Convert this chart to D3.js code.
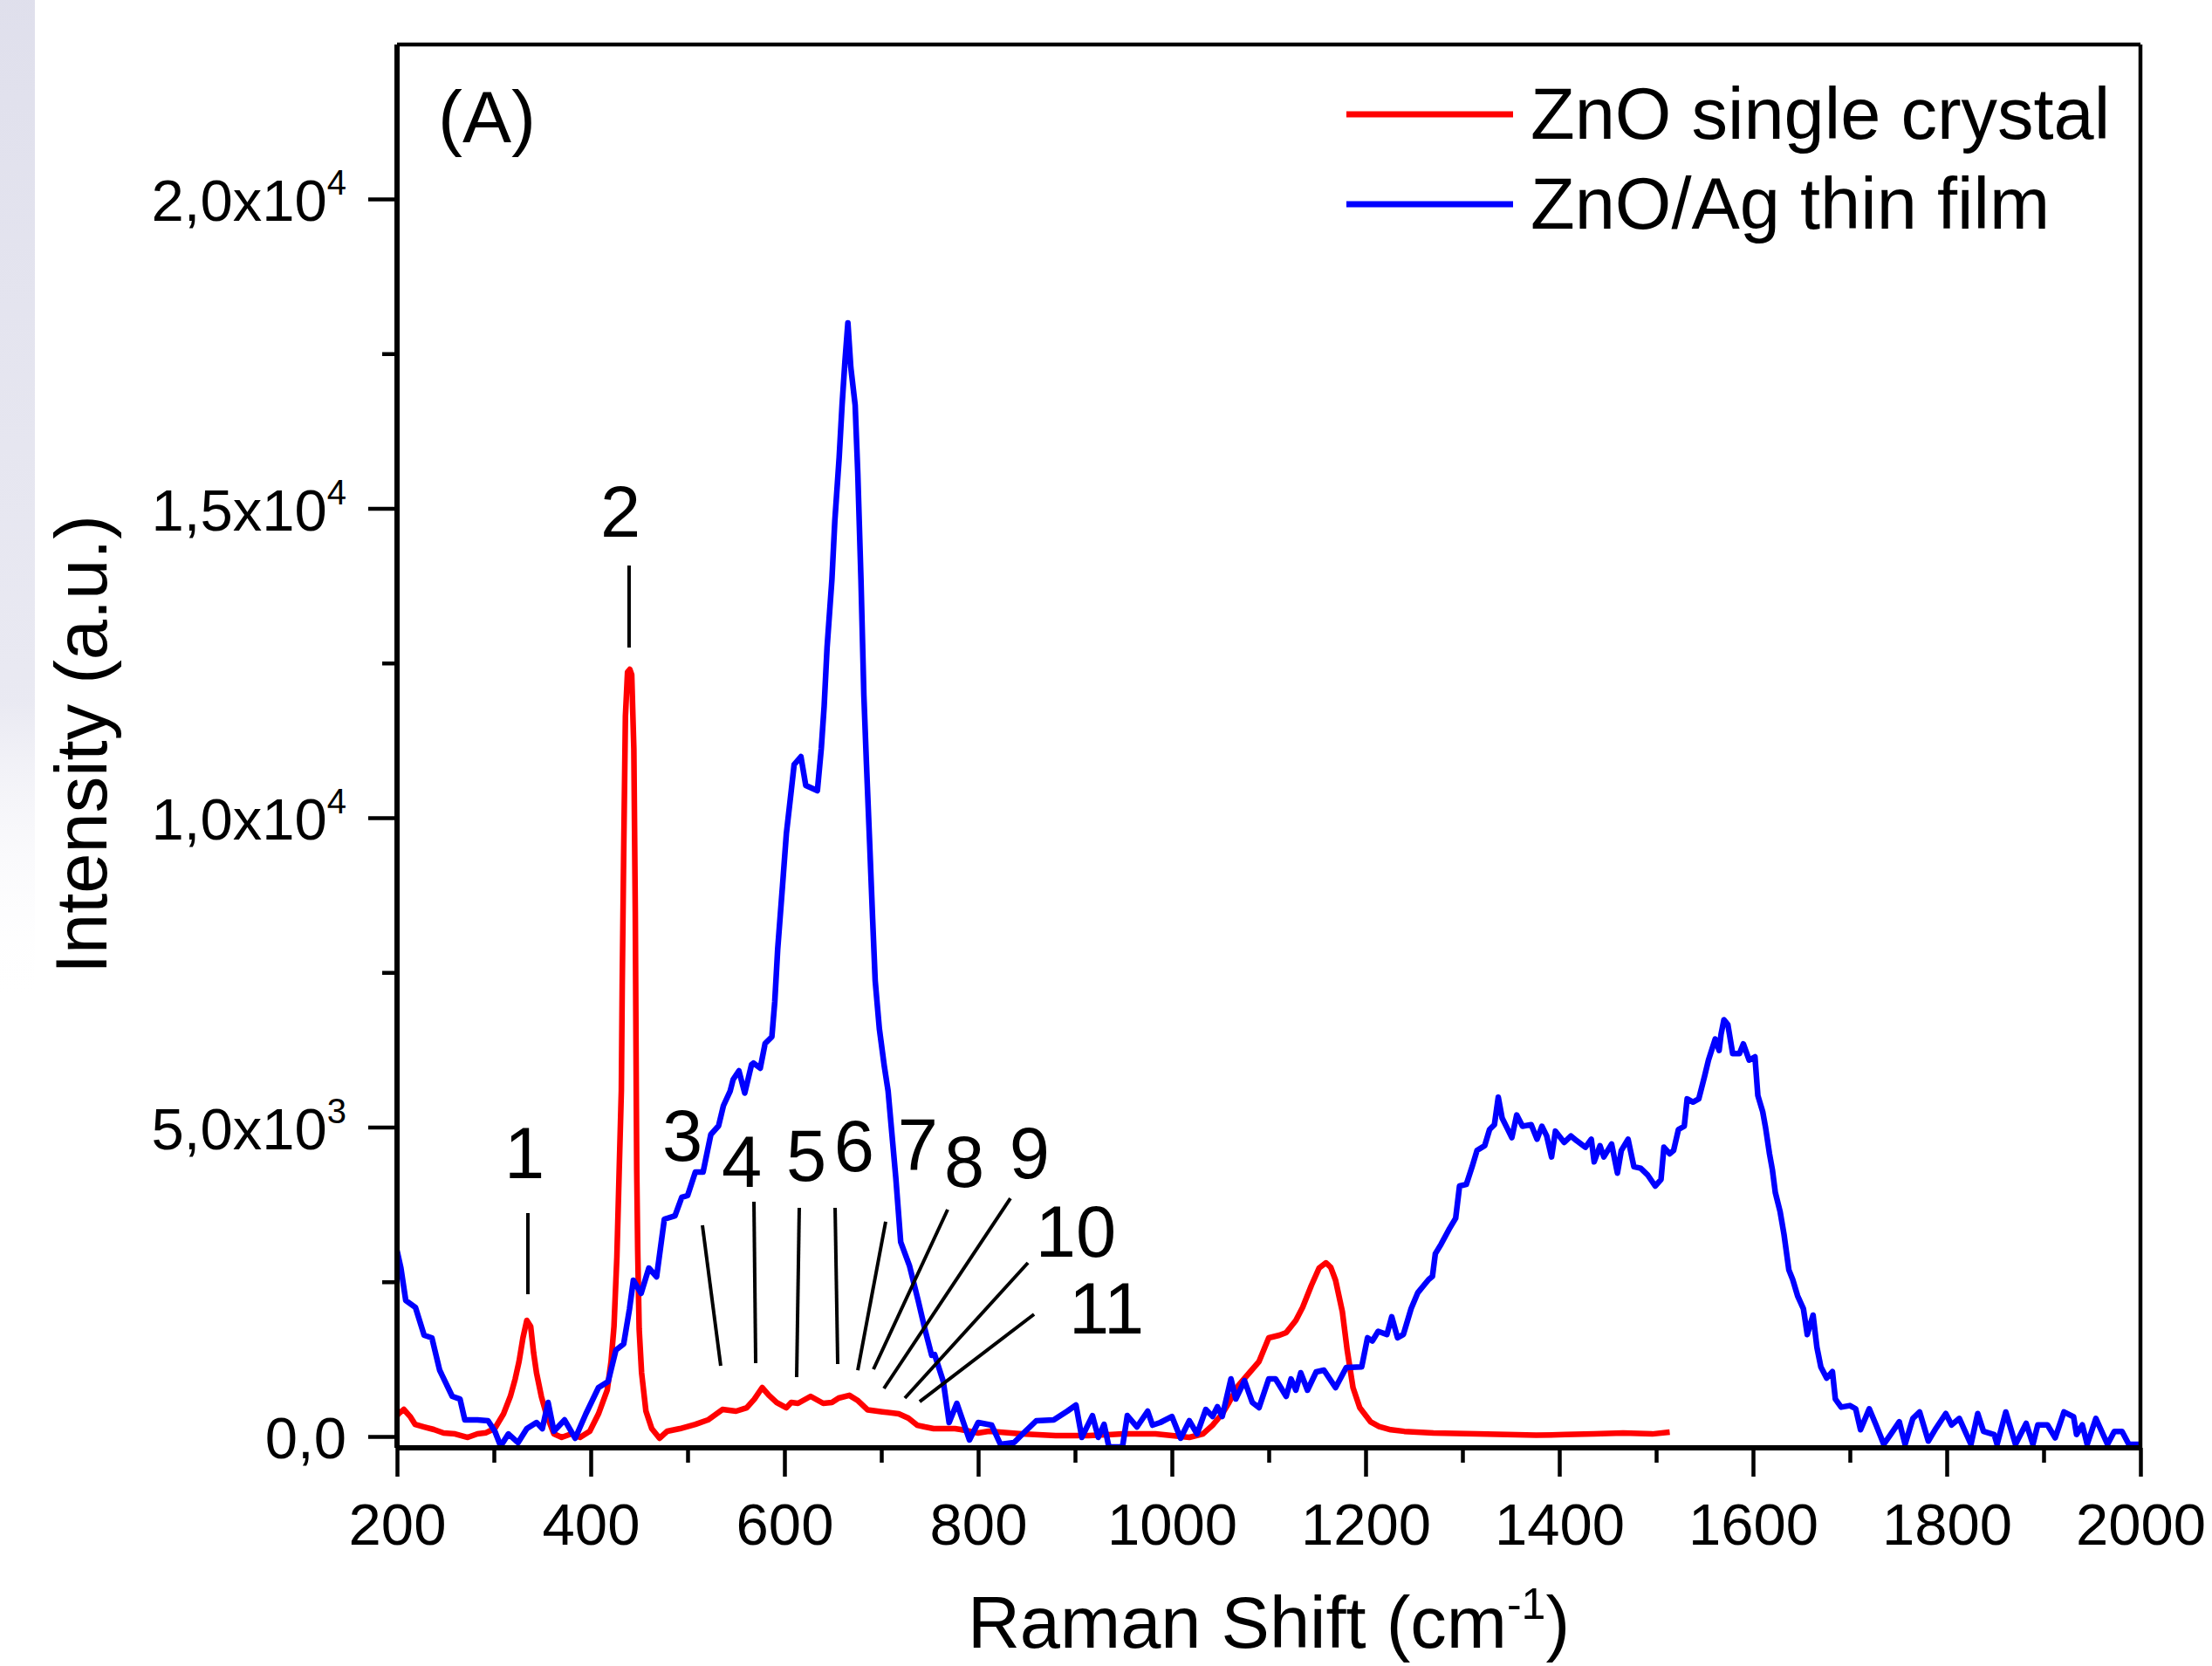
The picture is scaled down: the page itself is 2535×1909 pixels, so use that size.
<!DOCTYPE html>
<html>
<head>
<meta charset="utf-8">
<title>Raman spectra ZnO</title>
<script src="https://cdn.jsdelivr.net/npm/d3@7"></script>
<style>
body { margin: 0; background: #fff; }
text { font-family: Arial, "Liberation Sans", sans-serif; fill: #000; }
</style>
</head>
<body>
<div class="chart"></div>
<script>
// series: Raman shift (cm-1) / intensity (a.u.)
var crystalShift = [200, 201.5, 207, 213.5, 218.6, 228, 238, 248, 260, 273, 283, 292, 301, 310, 317, 322, 326, 330, 334, 338,
    341, 344, 349, 354, 362, 370, 380, 389, 399, 408, 417, 421, 424, 427, 429.4, 431.6, 432.5, 434, 435.8, 438,
    440.3, 442.3, 444.5, 446, 447, 447.5, 448.5, 450, 452.5, 457, 463, 471, 479, 492, 508, 521, 536, 550, 561, 569,
    577, 584, 592, 602, 607, 614, 627, 640, 649, 656, 667, 676, 686, 701, 718, 728, 737, 745, 754, 776,
    782, 800, 811, 845, 880, 914, 949, 983, 1018, 1032, 1042, 1052, 1059, 1069, 1080, 1090, 1100, 1111, 1118, 1128,
    1135, 1144, 1152, 1159, 1164, 1169, 1176, 1181, 1187, 1194, 1205, 1214, 1226, 1240, 1270, 1315, 1346, 1376, 1406, 1436,
    1466, 1496, 1514];
var crystalIntensity = [330, 367, 437, 324, 197, 155, 113, 56, 42, -14, 42, 61, 131, 367, 649, 931, 1213, 1594, 1876, 1777,
    1354, 1030, 649, 367, 42, -14, 42, -14, 85, 367, 748, 1213, 1777, 2905, 4316, 5585, 7278, 9408, 11636, 12355,
    12398, 12313, 11114, 8477, 5585, 4300, 3004, 1735, 1030, 409, 127, -28, 85, 127, 197, 268, 437, 409, 465, 606,
    790, 665, 550, 465, 550, 536, 649, 536, 550, 621, 665, 578, 430, 400, 367, 296, 183, 155, 127, 127,
    113, 56, 85, 42, 14, 14, 42, 42, -14, 42, 183, 367, 550, 832, 1030, 1213, 1594, 1636, 1678, 1876,
    2087, 2440, 2722, 2807, 2736, 2525, 2017, 1396, 790, 465, 239, 161, 109, 83, 57, 41, 31, 20, 31, 41,
    57, 41, 72];

var filmShift = [200, 204, 209, 219, 228, 236, 244, 257, 265, 270, 283, 294, 301, 307, 315, 325, 334, 344, 350, 356,
    362, 373, 384, 395, 408, 418, 426, 434, 440, 444, 452, 460, 468, 476, 487, 494, 500, 508, 516, 524,
    532, 537, 544, 547, 553, 559, 566, 568, 575, 580, 587, 590, 593, 598, 602, 607, 610, 617, 622, 634,
    638, 641, 644, 649, 652, 656.5, 659.5, 662.4, 665.5, 668.5, 673, 675.7, 679, 682, 684.7, 688, 691, 693.7, 698, 703,
    707, 715, 720, 729, 738, 745, 752, 755, 764, 770, 778, 791, 800, 814, 823, 837, 846, 860, 878, 892,
    901, 907, 918, 924, 930, 935, 949, 954, 964, 975, 980, 988, 1000, 1009, 1018, 1026, 1035, 1042, 1047, 1052,
    1061, 1066, 1075, 1083, 1090, 1100, 1107, 1118, 1123, 1128, 1133, 1140, 1149, 1157, 1169, 1180, 1196, 1202, 1207, 1213,
    1222, 1227, 1233, 1239, 1247, 1254, 1265, 1269, 1272, 1278, 1286, 1293, 1297, 1304, 1310, 1315, 1323, 1328, 1333, 1337,
    1341, 1346, 1351, 1356, 1362, 1371, 1377, 1382, 1387, 1392, 1396, 1405, 1412, 1418, 1427, 1433, 1436, 1442, 1446, 1454,
    1460, 1464, 1471, 1477, 1484, 1491, 1499, 1505, 1508, 1514, 1518, 1523, 1529, 1532, 1538, 1544, 1550, 1554, 1561, 1565,
    1567, 1570, 1574, 1579, 1586, 1590, 1596, 1602, 1605, 1610, 1613, 1617, 1620, 1623, 1628, 1632, 1637, 1641, 1646, 1652,
    1656, 1662, 1666, 1670, 1676, 1682, 1685, 1691, 1700, 1706, 1711, 1720, 1727, 1735, 1742, 1751, 1757, 1765, 1772, 1781,
    1789, 1799, 1805, 1813, 1825, 1832, 1838, 1849, 1852, 1861, 1871, 1882, 1889, 1894, 1904, 1912, 1921, 1931, 1934, 1940,
    1945, 1954, 1966, 1973, 1981, 1988, 2000];
var filmIntensity = [3004, 2722, 2200, 2087, 1636, 1594, 1072, 649, 606, 268, 268, 254, 85, -155, 42, -99, 127, 226, 127, 550,
    85, 268, -28, 367, 790, 889, 1396, 1495, 2059, 2525, 2313, 2722, 2581, 3512, 3568, 3865, 3893, 4274, 4274, 4880,
    5021, 5346, 5585, 5769, 5910, 5550, 6008, 6036, 5952, 6350, 6460, 7024, 7870, 8900, 9746, 10437, 10860, 10987, 10522, 10437,
    11114, 11805, 12750, 13850, 14795, 15825, 16671, 17362, 17997, 17278, 16671, 15571, 13850, 11975, 10860, 9577, 8378, 7362, 6587, 5994,
    5585, 4175, 3145, 2764, 2200, 1735, 1312, 1326, 889, 226, 536, -56, 226, 183, -127, -99, 42, 254, 268, 409,
    508, -14, 338, -14, 197, -169, -169, 338, 155, 409, 183, 226, 324, -28, 254, 42, 437, 324, 480, 324,
    931, 606, 903, 550, 465, 931, 931, 649, 931, 748, 1030, 748, 1044, 1072, 790, 1114, 1126, 1596, 1544, 1700,
    1648, 1935, 1596, 1648, 2066, 2326, 2535, 2587, 2953, 3109, 3344, 3527, 4048, 4074, 4361, 4622, 4700, 4961, 5040, 5483,
    5144, 4988, 4831, 5196, 5014, 5040, 4805, 5014, 4857, 4518, 4935, 4753, 4857, 4779, 4675, 4805, 4440, 4700, 4518, 4727,
    4257, 4622, 4805, 4361, 4335, 4231, 4048, 4153, 4675, 4570, 4622, 4961, 5014, 5457, 5405, 5457, 5823, 6083, 6423, 6240,
    6501, 6736, 6657, 6188, 6188, 6344, 6083, 6136, 5509, 5249, 4988, 4570, 4309, 3944, 3631, 3266, 2692, 2535, 2274, 2066,
    1648, 1961, 1439, 1126, 944, 1048, 604, 474, 500, 448, 109, 448, 187, -126, 31, 239, -126, 292, 396, -74,
    135, 370, 187, 292, -126, 370, 83, 31, -126, 396, -126, 213, -126, 187, 187, -22, 396, 318, 31, 187,
    -126, 292, -126, 83, 83, -126, -126];

var seriesNames = ["ZnO single crystal", "ZnO/Ag thin film"];
var seriesColors = ["#ff0000", "#0000ff"];

// axis ticks
var xMajor = [200, 400, 600, 800, 1000, 1200, 1400, 1600, 1800, 2000];
var xMinor = [300, 500, 700, 900, 1100, 1300, 1500, 1700, 1900];
var yMajor = [0, 5000, 10000, 15000, 20000];
var yMinor = [2500, 7500, 12500, 17500];
var yTickMant = ["0,0", "5,0x10", "1,0x10", "1,5x10", "2,0x10"];
var yTickExp = ["", "3", "4", "4", "4"];

// peak numbers and their marker lines (shift, intensity)
var peakNames = ["1", "2", "3", "4", "5", "6", "7", "8", "9", "10", "11"];
var peakTextShift = [331.5, 430.6, 494.6, 555.9, 622.5, 672, 737.8, 785.6, 853, 900.9, 932.4];
var peakTextInt = [4175, 14542, 4457, 4034, 4133, 4288, 4316, 4034, 4175, 2905, 1664];
var peakLineShift1 = [335.1, 439.6, 515.3, 568.5, 615.3, 652.3, 704.5, 768.5, 833.3, 851.4, 857.7];
var peakLineInt1 = [3611, 14076, 3413, 3794, 3695, 3695, 3470, 3667, 3850, 2807, 1975];
var peakLineShift2 = [335.1, 439.6, 534.2, 570.3, 612.6, 655, 675.7, 691.9, 702.7, 724.3, 739.6];
var peakLineInt2 = [2299, 12750, 1142, 1185, 959, 1171, 1072, 1086, 776, 621, 564];

var margin = {top: 51, right: 82, bottom: 250, left: 455},
    width = 2535 - margin.left - margin.right,
    height = 1909 - margin.top - margin.bottom;

var svg = d3.select(".chart")
    .append("svg")
    .attr("width", 2535)
    .attr("height", 1909);

// faint grey strip on the left edge of the scan
var grad = svg.append("defs").append("linearGradient")
    .attr("id", "edge")
    .attr("x1", 0).attr("y1", 0).attr("x2", 0).attr("y2", 1);
grad.append("stop").attr("offset", "0%").attr("stop-color", "#dcdcea").attr("stop-opacity", 0.9);
grad.append("stop").attr("offset", "70%").attr("stop-color", "#e4e4ef").attr("stop-opacity", 0.8);
grad.append("stop").attr("offset", "100%").attr("stop-color", "#ffffff").attr("stop-opacity", 0);
svg.append("rect")
    .attr("x", 0).attr("y", 0)
    .attr("width", 40).attr("height", 1150)
    .attr("fill", "url(#edge)");

var canvas = svg.append("g")
    .attr("transform", "translate(" + margin.left + "," + margin.top + ")");

var xScale = d3.scaleLinear()
    .domain([200, 2000])
    .range([0, width]);

var yScale = d3.scaleLinear()
    .domain([-183, 22496])
    .range([height, 0]);

svg.select("defs").append("clipPath")
    .attr("id", "plotArea")
    .append("rect")
    .attr("width", width)
    .attr("height", height);

var valueline = d3.line()
    .x(function (d) { return xScale(d[0]); })
    .y(function (d) { return yScale(d[1]); });

var series = [d3.zip(crystalShift, crystalIntensity), d3.zip(filmShift, filmIntensity)];

canvas.append("g")
    .attr("clip-path", "url(#plotArea)")
    .selectAll("path")
    .data(series)
    .enter().append("path")
    .attr("fill", "none")
    .attr("stroke", function (d, i) { return seriesColors[i]; })
    .attr("stroke-width", 6.5)
    .attr("stroke-linejoin", "round")
    .attr("d", valueline);

// x axis: major ticks with labels, minor without
var xAxis = canvas.append("g")
    .attr("class", "x axis")
    .attr("transform", "translate(0," + height + ")")
    .call(d3.axisBottom(xScale).tickValues(xMajor).tickSize(33).tickSizeOuter(0).tickPadding(30)
        .tickFormat(d3.format("d")));
canvas.append("g")
    .attr("transform", "translate(0," + height + ")")
    .call(d3.axisBottom(xScale).tickValues(xMinor).tickSize(17).tickSizeOuter(0).tickFormat(""))
    .call(function (g) { g.select(".domain").remove(); });
xAxis.select(".domain").remove();

var yAxis = canvas.append("g")
    .attr("class", "y axis")
    .call(d3.axisLeft(yScale).tickValues(yMajor).tickSize(33).tickSizeOuter(0).tickPadding(25)
        .tickFormat(function (d, i) { return yTickMant[i]; }));
yAxis.select(".domain").remove();
yAxis.selectAll(".tick text")
    .attr("dy", "0.37em")
    .append("tspan")
    .attr("dy", -30)
    .style("font-size", "40px")
    .text(function (d, i) { return yTickExp[i]; });
canvas.append("g")
    .call(d3.axisLeft(yScale).tickValues(yMinor).tickSize(17).tickSizeOuter(0).tickFormat(""))
    .call(function (g) { g.select(".domain").remove(); });

canvas.selectAll(".tick line")
    .attr("stroke", "#000")
    .attr("stroke-width", 4.5);
canvas.selectAll(".tick text")
    .style("font-size", "67px")
    .style("font-family", "Arial, 'Liberation Sans', sans-serif");
yAxis.selectAll(".tick text tspan").style("font-size", "40px");

// frame
canvas.append("line").attr("x1", 0).attr("x2", width).attr("y1", 0).attr("y2", 0)
    .attr("stroke", "#000").attr("stroke-width", 4.5);
canvas.append("line").attr("x1", width).attr("x2", width).attr("y1", 0).attr("y2", height)
    .attr("stroke", "#000").attr("stroke-width", 4.5);
canvas.append("line").attr("x1", 0).attr("x2", width).attr("y1", height).attr("y2", height)
    .attr("stroke", "#000").attr("stroke-width", 6);
canvas.append("line").attr("x1", 0).attr("x2", 0).attr("y1", 0).attr("y2", height)
    .attr("stroke", "#000").attr("stroke-width", 6);

// peak numbers
var peaks = canvas.append("g").attr("class", "peaks");
peaks.selectAll("line")
    .data(peakNames)
    .enter().append("line")
    .attr("x1", function (d, i) { return xScale(peakLineShift1[i]); })
    .attr("y1", function (d, i) { return yScale(peakLineInt1[i]); })
    .attr("x2", function (d, i) { return xScale(peakLineShift2[i]); })
    .attr("y2", function (d, i) { return yScale(peakLineInt2[i]); })
    .attr("stroke", "#000")
    .attr("stroke-width", 4);
peaks.selectAll("text")
    .data(peakNames)
    .enter().append("text")
    .attr("x", function (d, i) { return xScale(peakTextShift[i]); })
    .attr("y", function (d, i) { return yScale(peakTextInt[i]); })
    .attr("text-anchor", "middle")
    .style("font-size", "83px")
    .text(function (d) { return d; });

// panel letter
canvas.append("text")
    .attr("x", 47)
    .attr("y", 112)
    .style("font-size", "84px")
    .text("(A)");

// legend
var legend = canvas.append("g")
    .attr("transform", "translate(" + (width - 910) + ",80)");
var item = legend.selectAll("g")
    .data(seriesNames)
    .enter().append("g")
    .attr("transform", function (d, i) { return "translate(0," + (i * 103) + ")"; });
item.append("line")
    .attr("x1", 0).attr("x2", 191)
    .attr("stroke", function (d, i) { return seriesColors[i]; })
    .attr("stroke-width", 7);
item.append("text")
    .attr("x", 211)
    .attr("y", 28)
    .style("font-size", "83px")
    .text(function (d) { return d; });

// axis titles
svg.append("text")
    .attr("transform", "translate(122,853) rotate(-90)")
    .attr("text-anchor", "middle")
    .style("font-size", "83px")
    .text("Intensity (a.u.)");

var xTitle = svg.append("text")
    .attr("x", margin.left + width / 2)
    .attr("y", 1888)
    .attr("text-anchor", "middle")
    .style("font-size", "83px");
xTitle.append("tspan").text("Raman Shift (cm");
xTitle.append("tspan").attr("dy", -33).style("font-size", "50px").text("-1");
xTitle.append("tspan").attr("dy", 33).text(")");
</script>
</body>
</html>
